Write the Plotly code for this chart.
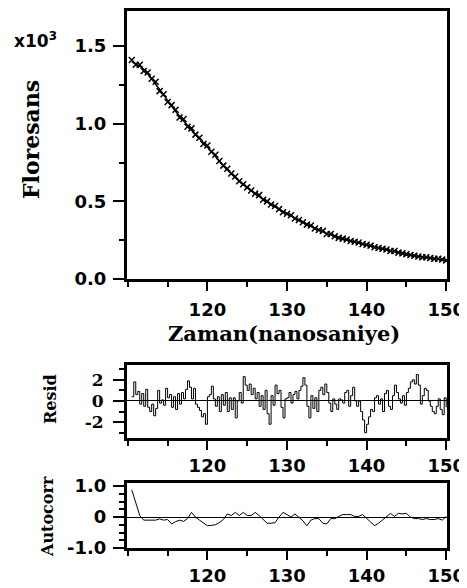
import numpy as np
import plotly.graph_objects as go

# ---------------- data ----------------
# main decay (values in units of 10^3 counts), sampled every 0.5 ns from 110.5 to 150
time_main = np.arange(110.5, 150.01, 0.5)
fluor = [1.41, 1.38, 1.38, 1.34, 1.33, 1.29, 1.27, 1.21, 1.19, 1.14,
         1.12, 1.09, 1.04, 1.03, 0.98, 0.97, 0.93, 0.91, 0.87, 0.86,
         0.82, 0.80, 0.76, 0.73, 0.71, 0.68, 0.66, 0.63, 0.61, 0.59,
         0.57, 0.55, 0.54, 0.51, 0.50, 0.48, 0.47, 0.45, 0.43, 0.42,
         0.41, 0.39, 0.38, 0.365, 0.35, 0.345, 0.325, 0.315, 0.31, 0.29,
         0.29, 0.275, 0.265, 0.26, 0.255, 0.245, 0.24, 0.235, 0.225, 0.22,
         0.215, 0.205, 0.20, 0.195, 0.19, 0.18, 0.18, 0.17, 0.165, 0.16,
         0.155, 0.15, 0.145, 0.14, 0.14, 0.135, 0.13, 0.13, 0.125, 0.12]

# fitted curve knots
time_fit = [110.5, 112, 114, 116, 118, 120, 122, 124, 126, 128, 130,
            132, 134, 136, 138, 140, 142, 144, 146, 148, 150]
fit = [1.40, 1.35, 1.22, 1.08, 0.96, 0.85, 0.73, 0.63, 0.55, 0.48, 0.42,
       0.365, 0.315, 0.275, 0.245, 0.22, 0.195, 0.17, 0.15, 0.135, 0.12]

# weighted residuals, every 0.25 ns from 110.5 to 150
time_resid = np.arange(110.5, 150.001, 0.25)
resid = [0.4, 1.8, 0.6, 0.9, -0.3, 0.7, -0.5, 1.1, -0.6, -1.0, -0.3, -1.4,
         -0.7, 1.0, -0.2, 0.1, -0.4, 1.2, 0.3, 0.6, -0.6, 0.4, -0.8, 0.7,
         -0.3, 0.8, 0.2, 1.1, 1.9, 1.3, 0.2, 1.2, -0.3, -0.6, -0.9, -1.5,
         -1.2, -2.2, 0.4, 0.6, 1.4, 0.2, -0.5, 0.4, -1.0, 0.6, -0.4, 0.8,
         -1.0, 0.3, -0.8, 0.3, -1.6, 0.0, 0.8, -0.2, 2.3, 1.5, 1.0, 1.6,
         0.6, 1.2, 0.2, 0.8, -0.5, 0.5, -0.8, 1.0, -1.2, -2.2, 0.5, -0.4,
         1.5, 0.7, 1.0, -0.6, -1.6, 0.2, 0.3, 0.8, -0.2, 0.6, 0.9, 0.2,
         1.0, 1.4, 2.2, 1.5, -0.5, -1.6, 0.5, -0.7, 0.3, -1.0, 1.0, 1.3,
         0.6, 1.6, 0.8, -0.2, -1.0, 0.2, -0.3, -0.8, 0.2, 0.1, -0.2, 0.8,
         1.0, -0.5, 0.5, 1.3, 0.0, -0.5, 0.0, -1.0, -1.8, -3.0, -2.2, -1.5,
         -0.8, -1.0, 0.3, 0.5, -0.3, 0.2, -1.0, 0.7, 1.0, -0.5, -0.8, 0.5,
         1.5, 0.8, 0.2, -0.2, 0.5, -0.4, 0.8, 1.2, 1.8, 2.0, 1.6, 2.5,
         1.5, -0.3, 0.5, 1.2, 1.0, 0.0, -0.5, -1.0, -1.2, -0.5, 0.2, -0.8,
         -1.3, 0.3, -0.6]

# autocorrelation of residuals, every 0.5 ns from 110.5 to 150
time_ac = np.arange(110.5, 150.01, 0.5)
autocorr = [0.88, 0.45, 0.05, -0.10, -0.10, -0.08, -0.10, -0.06, -0.10, -0.08,
            -0.22, -0.15, -0.10, -0.14, -0.05, 0.15, 0.0, -0.10, -0.20, -0.28,
            -0.27, -0.25, -0.18, -0.08, 0.10, 0.05, 0.15, 0.05, 0.15, 0.05,
            0.05, 0.15, 0.05, -0.08, -0.20, -0.20, -0.18, 0.0, 0.15, 0.08,
            0.0, 0.10, -0.02, -0.12, -0.28, -0.10, -0.05, -0.05, -0.20, -0.22,
            -0.05, -0.05, 0.02, 0.08, 0.08, 0.08, 0.02, 0.02, 0.08, -0.05,
            -0.18, -0.28, -0.20, -0.10, 0.02, 0.12, 0.02, 0.12, 0.10, 0.12,
            0.0, -0.05, -0.05, -0.08, -0.05, -0.08, -0.08, -0.05, -0.10, 0.02]

main_yticks = [0, 0.5, 1.0, 1.5]
resid_yticks = [-2, 0, 2]
resid_yticktext = ["-2", "0", "2"]
ac_yticks = [-1, 0, 1]
ac_yticktext = ["-1.0", "0", "1.0"]
xticks = [120, 130, 140, 150]

# ---------------- figure ----------------
W, H = 467, 588
OFF = 8  # page body margin; positions below are given in window pixels
fig = go.Figure()

fig.add_trace(go.Scatter(x=time_fit, y=fit, mode="lines",
                         line=dict(color="black", width=1.5, shape="spline"),
                         xaxis="x", yaxis="y", showlegend=False, hoverinfo="skip"))
fig.add_trace(go.Scatter(x=time_main, y=fluor, mode="markers",
                         marker=dict(symbol="x-thin-open", size=6, color="black",
                                     line=dict(color="black", width=1.5)),
                         xaxis="x", yaxis="y", showlegend=False))
fig.add_trace(go.Scatter(x=time_resid, y=resid, mode="lines",
                         line=dict(color="black", width=1, shape="hv"),
                         xaxis="x2", yaxis="y2", showlegend=False))
fig.add_trace(go.Scatter(x=time_ac, y=autocorr, mode="lines",
                         line=dict(color="black", width=1),
                         xaxis="x3", yaxis="y3", showlegend=False))

def px(X):
    return (X - OFF) / W

def py(Y):
    return min(1.0, 1 - (Y - OFF) / H)

xdom = [px(127), px(447)]
def ydom(top, bottom):
    return [py(bottom), py(top)]

sans = "DejaVu Sans"
serif = "DejaVu Serif"
tickfont_sans = dict(family=sans, size=18, color="black", weight="bold")
tickfont_serif = dict(family=serif, size=17, color="black", weight="bold")

def xaxis_cfg(anchor, standoff):
    return dict(domain=xdom, range=[109.9, 150.1], anchor=anchor, tickvals=xticks,
                ticks="outside", ticklen=9, tickwidth=2, tickcolor="black",
                minor=dict(dtick=5, tick0=0, ticks="outside", ticklen=5, tickwidth=2, tickcolor="black"),
                showline=True, linewidth=3, linecolor="black", mirror=True, automargin=False,
                showgrid=False, zeroline=False, tickfont=tickfont_sans, ticklabelstandoff=standoff)

fig.update_layout(
    width=W, height=H, margin=dict(l=0, r=0, t=0, b=0, autoexpand=False),
    paper_bgcolor="white", plot_bgcolor="white",
    xaxis=xaxis_cfg("y", 3),
    yaxis=dict(domain=ydom(11, 279), range=[0, 1.726], anchor="x", tickvals=main_yticks,
               tickformat=".1f", ticks="outside", ticklen=11, tickwidth=2, tickcolor="black",
               minor=dict(dtick=0.25, tick0=0, ticks="outside", ticklen=5, tickwidth=2, tickcolor="black"),
               showline=True, linewidth=3, linecolor="black", mirror=True, automargin=False,
               showgrid=False, zeroline=False, tickfont=tickfont_sans, ticklabelstandoff=3),
    xaxis2=xaxis_cfg("y2", 0),
    yaxis2=dict(domain=ydom(365, 438), range=[-3.5, 3.4], anchor="x2", tickvals=resid_yticks,
                ticktext=resid_yticktext, ticks="outside", ticklen=11, tickwidth=2, tickcolor="black",
                minor=dict(dtick=1, tick0=0, ticks="outside", ticklen=5, tickwidth=2, tickcolor="black"),
                showline=True, linewidth=3, linecolor="black", mirror=True, automargin=False,
                showgrid=False, zeroline=True, zerolinecolor="black", zerolinewidth=1,
                tickfont=tickfont_serif, ticklabelstandoff=6),
    xaxis3=xaxis_cfg("y3", 0),
    yaxis3=dict(domain=ydom(483, 548), range=[-1.0, 1.1], anchor="x3", tickvals=ac_yticks,
                ticktext=ac_yticktext, ticks="outside", ticklen=11, tickwidth=2, tickcolor="black",
                minor=dict(dtick=0.25, tick0=0, ticks="outside", ticklen=5, tickwidth=2, tickcolor="black"),
                showline=True, linewidth=3, linecolor="black", mirror=True, automargin=False,
                showgrid=False, zeroline=True, zerolinecolor="black", zerolinewidth=1,
                tickfont=tickfont_sans, ticklabelstandoff=3),
)

annots = [
    dict(text="x10<sup>3</sup>", x=px(12), y=py(40), xanchor="left", yanchor="middle",
         font=dict(family=sans, size=17, color="black", weight="bold")),
    dict(text="Floresans", x=px(31), y=py(140), textangle=-90, xanchor="center", yanchor="middle",
         font=dict(family=serif, size=22, color="black", weight="bold")),
    dict(text="Zaman(nanosaniye)", x=px(284), y=py(334), xanchor="center", yanchor="middle",
         font=dict(family=serif, size=21, color="black", weight="bold")),
    dict(text="Resid", x=px(50), y=py(399), textangle=-90, xanchor="center", yanchor="middle",
         font=dict(family=serif, size=16, color="black", weight="bold")),
    dict(text="Autocorr", x=px(47), y=py(517), textangle=-90, xanchor="center", yanchor="middle",
         font=dict(family=serif, size=16, color="black", weight="bold")),
]
for a in annots:
    a.update(xref="paper", yref="paper", showarrow=False)
fig.update_layout(annotations=annots)

fig.write_html("out.html")
